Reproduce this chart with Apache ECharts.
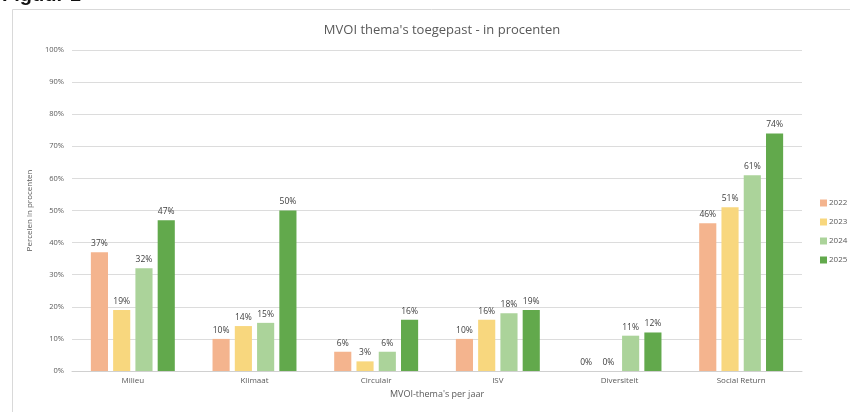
<!DOCTYPE html>
<html>
<head>
<meta charset="utf-8">
<script src="https://cdn.jsdelivr.net/npm/echarts@6/dist/echarts.min.js"></script>
<style>html,body{margin:0;padding:0;background:#fff;}#c{width:850px;height:412px;}</style>
</head>
<body>
<div id="c"></div>
<script>
var categories = ['Milieu', 'Klimaat', 'Circulair', 'ISV', 'Diversiteit', 'Social Return'];
var years = ['2022', '2023', '2024', '2025'];
var v2022 = [37, 10, 6, 10, 0, 46];
var v2023 = [19, 14, 3, 16, 0, 51];
var v2024 = [32, 15, 6, 18, 11, 61];
var v2025 = [47, 50, 16, 19, 12, 74];
var yTicks = [0, 10, 20, 30, 40, 50, 60, 70, 80, 90, 100];
var colors = ['#F4B48E', '#F8D77E', '#ABD39A', '#62A94C'];

var chart = echarts.init(document.getElementById('c'));
var font = 'Open Sans';
var seriesData = [v2022, v2023, v2024, v2025];
chart.setOption({
  animation: false,
  textStyle: { fontFamily: font },
  title: {
    text: "MVOI thema's toegepast - in procenten",
    left: 437, top: 19, textAlign: 'center',
    textStyle: { fontFamily: font, fontSize: 13, fontWeight: 'normal', color: '#595959' }
  },
  graphic: [
    { type: 'rect', shape: { x: 12.5, y: 9.5, width: 850, height: 420 }, style: { fill: 'none', stroke: '#D9D9D9', lineWidth: 1 } },
    { type: 'text', left: 2, top: -15, style: { text: 'Figuur 1', fontFamily: 'Liberation Sans', fontWeight: 'bold', fontSize: 20, fill: '#111' } }
  ],
  legend: {
    orient: 'vertical', left: 815, top: 194, itemGap: 11,
    itemWidth: 7, itemHeight: 7, icon: 'rect',
    data: years,
    textStyle: { fontFamily: font, fontSize: 8, color: '#595959', padding: [0, 0, 0, -3] }
  },
  grid: { left: 72, right: 48, top: 50, bottom: 41, containLabel: false },
  xAxis: {
    type: 'category', data: categories,
    name: "MVOI-thema's per jaar", nameLocation: 'middle', nameGap: 18,
    nameTextStyle: { fontFamily: font, fontSize: 9, color: '#595959' },
    axisLine: { lineStyle: { color: '#D0D0D0' } },
    axisTick: { show: false },
    axisLabel: { fontFamily: font, fontSize: 8, color: '#595959', margin: 6 }
  },
  yAxis: {
    type: 'value', min: 0, max: 100, interval: 10,
    name: 'Percelen in procenten', nameLocation: 'middle', nameGap: 38, nameRotate: 90,
    nameTextStyle: { fontFamily: font, fontSize: 8, color: '#595959' },
    axisLine: { show: false }, axisTick: { show: false },
    axisLabel: { fontFamily: font, fontSize: 7.5, color: '#595959', margin: 8, formatter: function (v) { return v + '%'; } },
    splitLine: { lineStyle: { color: '#DCDCDC' } }
  },
  series: years.map(function (y, i) {
    return {
      name: y, type: 'bar', data: seriesData[i],
      itemStyle: { color: colors[i] },
      barGap: '30%', barCategoryGap: '31%',
      label: { show: true, position: 'top', distance: 4, formatter: '{c}%', fontFamily: font, fontSize: 8.5, color: '#404040' }
    };
  })
});
</script>
</body>
</html>
